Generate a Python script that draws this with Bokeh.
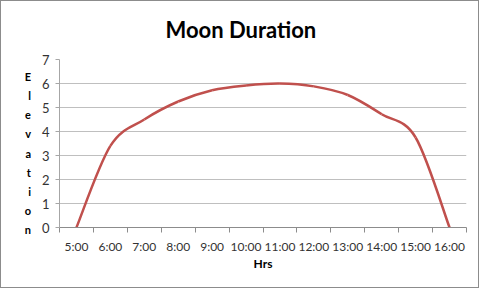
from bokeh.plotting import figure
from bokeh.models import FixedTicker, Range1d
from bokeh.embed import file_html
from bokeh.resources import INLINE

hours = ["5:00", "6:00", "7:00", "8:00", "9:00", "10:00", "11:00",
         "12:00", "13:00", "14:00", "15:00", "16:00"]
elevation = [0, 3.4, 4.5, 5.25, 5.72, 5.92, 6.0, 5.88, 5.52, 4.72, 3.75, 0]
y_ticks = [0, 1, 2, 3, 4, 5, 6, 7]
y_label = "Elevation"

FONT = "Lato"
LINE = "#C0504D"

n = len(hours)
xs = [i + 0.5 for i in range(n)]

# Excel-style smoothed line: cubic Bezier segments through the data points
x0, y0, x1, y1, cx0, cy0, cx1, cy1 = [], [], [], [], [], [], [], []
for i in range(n - 1):
    a = max(i - 1, 0)
    b = min(i + 2, n - 1)
    x0.append(xs[i]); y0.append(elevation[i])
    x1.append(xs[i + 1]); y1.append(elevation[i + 1])
    cx0.append(xs[i] + (xs[i + 1] - xs[a]) / 6)
    cy0.append(elevation[i] + (elevation[i + 1] - elevation[a]) / 6)
    cx1.append(xs[i + 1] - (xs[b] - xs[i]) / 6)
    cy1.append(elevation[i + 1] - (elevation[b] - elevation[i]) / 6)

p = figure(width=479, height=288, output_backend="svg", toolbar_location=None,
           x_range=Range1d(0, n), y_range=Range1d(0, 7),
           min_border_left=58, min_border_right=14, min_border_top=56,
           min_border_bottom=62, title="Moon Duration")
p.styles = {"border": "1px solid #8c8c8c"}
p.outline_line_color = None
p.background_fill_color = "white"
p.border_fill_color = "white"

p.title.text_font = FONT
p.title.text_font_size = "22px"
p.title.text_font_style = "bold"
p.title.text_color = "black"
p.title.align = "left"
p.title.offset = 106
p.title.vertical_align = "top"
p.title.standoff = 29

p.bezier(x0=x0, y0=y0, x1=x1, y1=y1, cx0=cx0, cy0=cy0, cx1=cx1, cy1=cy1,
         line_color=LINE, line_width=2.5)

# x axis
p.xaxis.ticker = FixedTicker(ticks=xs, minor_ticks=list(range(n + 1)))
p.xaxis.major_label_overrides = {x: h for x, h in zip(xs, hours)}
p.xaxis.major_tick_line_color = None
p.xaxis.major_tick_out = 0
p.xaxis.major_tick_in = 0
p.xaxis.minor_tick_out = 5
p.xaxis.minor_tick_in = 0
p.xaxis.minor_tick_line_color = "#8c8c8c"
p.xaxis.axis_line_color = "#8c8c8c"
p.xaxis.major_label_text_font = FONT
p.xaxis.major_label_text_font_size = "12px"
p.xaxis.major_label_text_color = "#333333"
p.xaxis.major_label_standoff = 6
p.xaxis.axis_label = "Hrs"
p.xaxis.axis_label_text_font = FONT
p.xaxis.axis_label_text_font_size = "12px"
p.xaxis.axis_label_text_font_style = "bold"
p.xaxis.axis_label_text_color = "black"
p.xaxis.axis_label_standoff = -1

# y axis
p.yaxis.ticker = FixedTicker(ticks=y_ticks)
p.yaxis.minor_tick_line_color = None
p.yaxis.major_tick_out = 4
p.yaxis.major_tick_in = 0
p.yaxis.major_tick_line_color = "#a6a6a6"
p.yaxis.axis_line_color = "#a6a6a6"
p.yaxis.major_label_text_font = FONT
p.yaxis.major_label_text_font_size = "13px"
p.yaxis.major_label_text_color = "#333333"
p.yaxis.major_label_standoff = 6
# stacked (one letter per line) y-axis title, as in the Excel original
p.yaxis.axis_label = "\u00a0\n" + "\n".join(y_label)
p.yaxis.axis_label_orientation = "horizontal"
p.yaxis.axis_label_text_font = FONT
p.yaxis.axis_label_text_font_size = "11px"
p.yaxis.axis_label_text_font_style = "bold"
p.yaxis.axis_label_text_color = "black"
p.yaxis.axis_label_text_line_height = 1.47
p.yaxis.axis_label_standoff = 8

p.xgrid.grid_line_color = None
p.ygrid.ticker = FixedTicker(ticks=y_ticks)
p.ygrid.grid_line_color = "#bfbfbf"
p.ygrid.grid_line_width = 1

open("out.html", "w").write(file_html(p, INLINE))
